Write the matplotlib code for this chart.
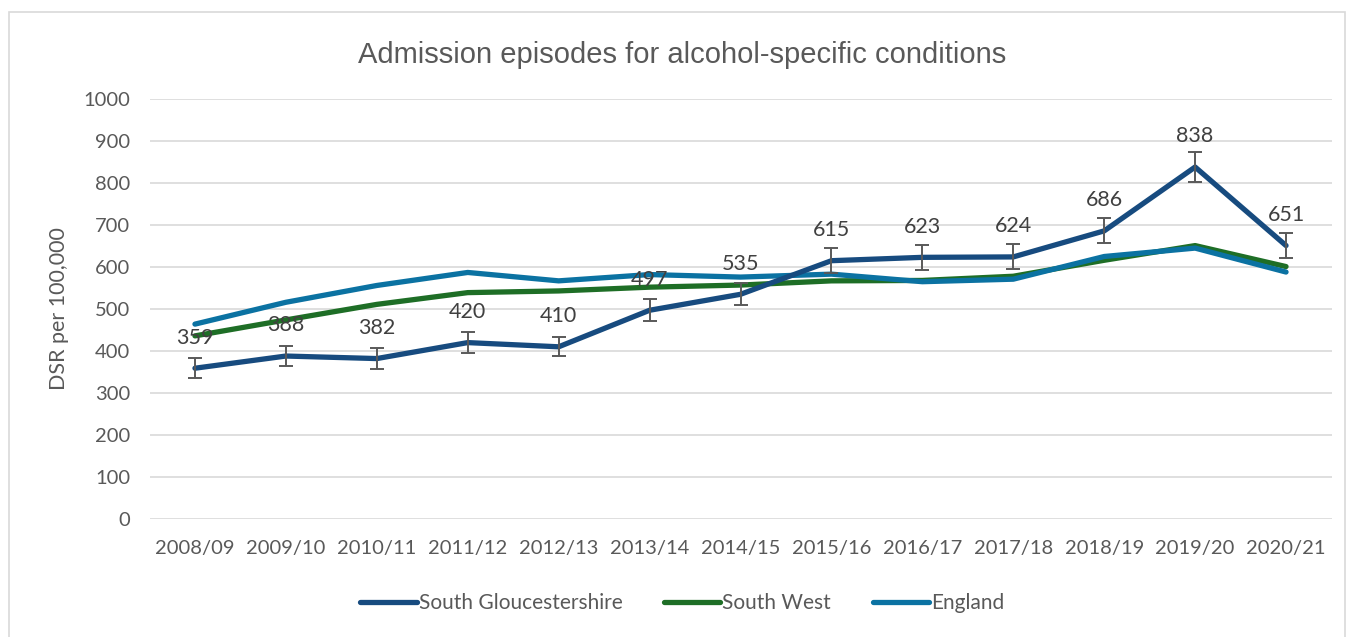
import matplotlib
matplotlib.use("Agg")
import matplotlib.pyplot as plt
from matplotlib.patches import Rectangle

# Data
years = ["2008/09", "2009/10", "2010/11", "2011/12", "2012/13", "2013/14", "2014/15",
         "2015/16", "2016/17", "2017/18", "2018/19", "2019/20", "2020/21"]
south_glos = [359, 388, 382, 420, 410, 497, 535, 615, 623, 624, 686, 838, 651]
south_glos_lower = [336, 364, 358, 395, 387, 472, 509, 586, 594, 595, 656, 803, 621]
south_glos_upper = [383, 412, 406, 445, 434, 523, 562, 645, 653, 654, 717, 873, 682]
south_west = [436, 474, 511, 539, 543, 552, 557, 567, 568, 578, 616, 651, 601]
england = [464, 516, 556, 587, 567, 582, 576, 583, 565, 571, 625, 645, 588]

SG_COL = "#174B7F"
SW_COL = "#1E6E26"
ENG_COL = "#0B72A2"
TEXT_COL = "#595959"

plt.rcParams['font.family'] = ['Lato', 'DejaVu Sans']

fig = plt.figure(figsize=(13.54, 6.37), dpi=100)
ax = fig.add_axes([149.5 / 1354, 1 - 519 / 637, (1331.5 - 149.5) / 1354, (519 - 99) / 637])

x = list(range(len(years)))

ax.plot(x, south_west, color=SW_COL, lw=3.8, label="South West", zorder=3,
        solid_capstyle="round")
ax.plot(x, england, color=ENG_COL, lw=3.8, label="England", zorder=4,
        solid_capstyle="round")
ax.plot(x, south_glos, color=SG_COL, lw=3.8, label="South Gloucestershire", zorder=5,
        solid_capstyle="round")

err_low = [v - lo for v, lo in zip(south_glos, south_glos_lower)]
err_high = [hi - v for v, hi in zip(south_glos, south_glos_upper)]
ax.errorbar(x, south_glos, yerr=[err_low, err_high], fmt="none", ecolor=TEXT_COL,
            elinewidth=1.4, capsize=5, capthick=1.4, zorder=6)

for xi, v in zip(x, south_glos):
    ax.annotate(f"{v}", (xi, v), xytext=(0, 22), textcoords="offset points",
                ha="center", va="center", fontsize=15.5, color="#404040", zorder=7)

ax.set_xlim(-0.5, len(years) - 0.5)
ax.set_ylim(0, 1000)
ax.set_yticks(range(0, 1001, 100))
ax.set_xticks(x)
ax.set_xticklabels(years)
ax.tick_params(axis="both", length=0, labelsize=14.5, colors=TEXT_COL)
ax.tick_params(axis="x", pad=15)
ax.tick_params(axis="y", pad=14)
ax.grid(axis="y", color="#D9D9D9", lw=1.2)
ax.set_axisbelow(True)
for s in ax.spines.values():
    s.set_visible(False)

ax.set_ylabel("DSR per 100,000", fontsize=15.5, color=TEXT_COL, labelpad=10)

fig.text(0.504, 1 - 55 / 637, "Admission episodes for alcohol-specific conditions",
         ha="center", va="center", fontsize=21, color=TEXT_COL,
         family=["Liberation Sans", "DejaVu Sans"])

handles, labels = ax.get_legend_handles_labels()
order = [2, 0, 1]
fig.legend([handles[i] for i in order], [labels[i] for i in order],
           loc="center", bbox_to_anchor=(0.504, 1 - 603 / 637), ncol=3, frameon=False,
           fontsize=15, labelcolor=TEXT_COL, handlelength=2.7, handletextpad=0.1,
           columnspacing=2.0)

fig.patches.append(Rectangle((9 / 1354, -0.05), (1345 - 9) / 1354, 1.05 - 12 / 637,
                             transform=fig.transFigure, fill=False,
                             edgecolor="#D9D9D9", lw=1.2))

fig.savefig("out.png", dpi=100)
